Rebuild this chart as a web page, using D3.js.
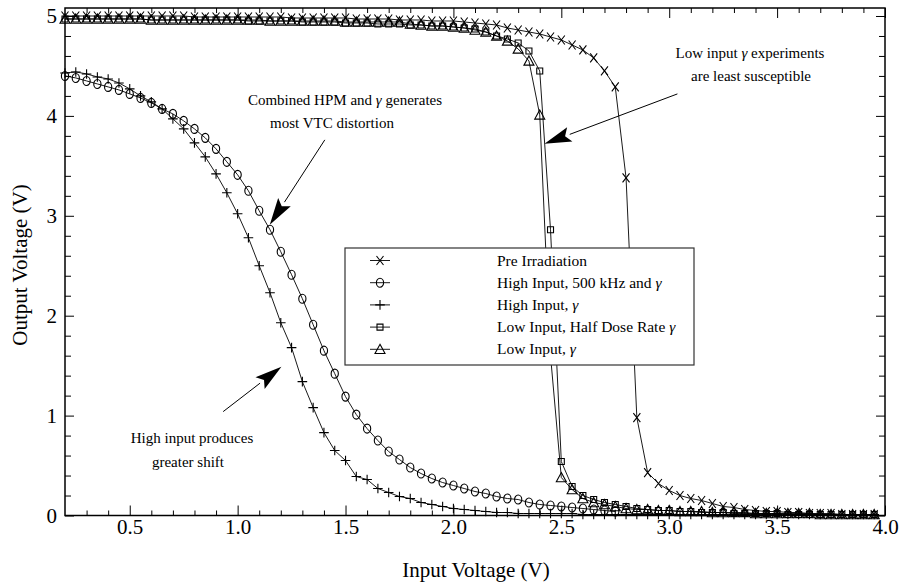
<!DOCTYPE html>
<html>
<head>
	<meta charset="utf-8">
	<title>VTC</title>
	<script src="https://d3js.org/d3.v7.min.js"></script>
	<style>
		body { margin: 0; background: #fff; }
		text { font-family: "Liberation Serif", "Times New Roman", serif; fill: #000; }
	</style>
</head>
<body>
<svg id="chart" width="904" height="585"></svg>
<script>
	// input voltage sweep (V)
	var vin = [0.20,0.25,0.30,0.35,0.40,0.45,0.50,0.55,0.60,0.65,0.70,0.75,0.80,0.85,0.90,0.95,
		1.00,1.05,1.10,1.15,1.20,1.25,1.30,1.35,1.40,1.45,1.50,1.55,1.60,1.65,1.70,1.75,1.80,1.85,1.90,1.95,
		2.00,2.05,2.10,2.15,2.20,2.25,2.30,2.35,2.40,2.45,2.50,2.55,2.60,2.65,2.70,2.75,
		2.80,2.85,2.90,2.95,3.00,3.05,3.10,3.15,3.20,3.25,3.30,3.35,3.40,3.45,3.50,3.55,3.60,3.65,3.70,3.75,3.80,3.85,3.90,3.95];

	var preIrr = [5.00,5.00,5.00,5.00,5.00,5.00,5.00,5.00,5.00,5.00,5.00,5.00,4.99,4.99,4.99,4.99,
		4.99,4.99,4.99,4.99,4.99,4.98,4.98,4.98,4.98,4.98,4.98,4.97,4.97,4.97,4.97,4.96,4.96,4.96,4.95,4.95,
		4.95,4.94,4.93,4.92,4.91,4.88,4.86,4.84,4.82,4.79,4.76,4.71,4.66,4.58,4.45,4.29,
		3.38,0.98,0.43,0.32,0.25,0.20,0.17,0.15,0.12,0.09,0.08,0.06,0.05,0.04,0.04,0.03,0.03,0.02,0.02,0.02,0.01,0.01,0.01,0.01];

	var highHpm = [4.40,4.38,4.35,4.32,4.29,4.26,4.22,4.18,4.13,4.07,4.02,3.95,3.87,3.78,3.67,3.54,
		3.41,3.25,3.05,2.86,2.64,2.41,2.17,1.91,1.65,1.42,1.19,1.01,0.87,0.75,0.64,0.56,0.48,0.42,0.37,0.33,
		0.30,0.27,0.24,0.22,0.19,0.17,0.16,0.13,0.11,0.10,0.09,0.08,0.07,0.06,0.05,0.04];

	var highGamma = [4.43,4.44,4.42,4.39,4.37,4.33,4.27,4.20,4.14,4.07,3.97,3.87,3.73,3.59,3.42,3.23,
		3.02,2.78,2.50,2.23,1.93,1.68,1.34,1.08,0.83,0.65,0.55,0.39,0.36,0.27,0.23,0.19,0.17,0.13,0.11,0.09,
		0.07,0.06,0.05,0.04,0.03,0.03,0.02,0.02,0.02,0.02,0.02,0.02,0.01,0.01,0.01,0.01,
		0.01,0.01,0.01,0.01,0.01,0.01,0.01,0.01,0.01,0.01,0.01,0.01,0.01,0.01,0.01,0.01,0.01,0.01,0.01,0.01,0.01,0.01,0.01,0.01];

	var lowHalf = [4.97,4.97,4.97,4.97,4.97,4.97,4.97,4.97,4.96,4.96,4.96,4.96,4.96,4.96,4.96,4.96,
		4.96,4.95,4.95,4.95,4.95,4.95,4.94,4.94,4.94,4.94,4.93,4.93,4.93,4.92,4.92,4.92,4.91,4.91,4.90,4.90,
		4.89,4.88,4.87,4.84,4.80,4.77,4.73,4.65,4.45,2.86,0.54,0.29,0.20,0.16,0.13,0.11,
		0.09,0.07,0.06,0.05,0.05,0.04,0.04,0.03,0.03,0.03,0.02,0.02,0.02,0.02,0.02,0.01,0.01,0.01,0.01,0.01,0.01,0.01,0.01,0.01];

	var lowGamma = [4.97,4.97,4.97,4.97,4.97,4.97,4.97,4.97,4.96,4.96,4.96,4.96,4.96,4.96,4.96,4.96,
		4.96,4.96,4.96,4.95,4.95,4.95,4.95,4.95,4.95,4.95,4.94,4.94,4.94,4.94,4.94,4.94,4.92,4.91,4.90,4.90,
		4.89,4.88,4.86,4.84,4.80,4.75,4.67,4.55,4.01,1.60,0.38,0.26,0.17,0.13,0.11,0.09,
		0.07,0.06,0.06,0.05,0.05,0.04,0.04,0.04,0.03,0.03,0.03,0.03,0.02,0.02,0.02,0.02,0.02,0.02,0.01,0.01,0.01,0.01,0.01,0.01];

	var seriesNames = ["Pre Irradiation", "High Input, 500 kHz and ", "High Input, ", "Low Input, Half Dose Rate ", "Low Input, "];
	var seriesGamma = [false, true, true, true, true];
	var seriesMarks = ["x", "o", "plus", "square", "tri"];
	var seriesValues = [preIrr, highHpm, highGamma, lowHalf, lowGamma];

	var xMajor = [0.5, 1.0, 1.5, 2.0, 2.5, 3.0, 3.5, 4.0];
	var yMajor = [0, 1, 2, 3, 4, 5];

	var markerPaths = {
		x: "M-3.5,-4.5L3.5,4.5M3.5,-4.5L-3.5,4.5",
		o: "M0,-4.5A3.6,4.5 0 1,1 0,4.5A3.6,4.5 0 1,1 0,-4.5Z",
		plus: "M-4.8,0L4.8,0M0,-4.8L0,4.8",
		square: "M-3,-3H3V3H-3Z",
		tri: "M0,-5L5,4.2H-5Z"
	};

	var svg = d3.select("#chart");
	var plotL = 65, plotR = 885, plotT = 8, plotB = 515.5;

	var x = d3.scaleLinear().domain([0.2, 4.0]).range([plotL, plotR]);
	var y = d3.scaleLinear().domain([0, 5.08]).range([plotB, plotT]);

	function ticks(lo, hi, step) {
		var out = [];
		for (var v = lo; v <= hi + 1e-9; v += step) out.push(Math.round(v * 100) / 100);
		return out;
	}
	var xMinor = ticks(0.3, 3.9, 0.1).filter(function (d) { return xMajor.indexOf(d) < 0; });
	var yMinor = ticks(0.2, 5.0, 0.2).filter(function (d) { return yMajor.indexOf(d) < 0; });

	function addAxis(axis, tx, ty, cls) {
		var g = svg.append("g")
			.attr("class", cls)
			.attr("transform", "translate(" + tx + "," + ty + ")")
			.call(axis);
		g.select(".domain").remove();
		g.selectAll("line").attr("stroke", "#000").attr("stroke-width", 1);
		g.selectAll("text").style("font-family", "Liberation Serif").style("font-size", "21px").attr("fill", "#000");
		return g;
	}

	addAxis(d3.axisBottom(x).tickValues(xMajor).tickSize(-10).tickPadding(4).tickFormat(d3.format(".1f")), 0, plotB, "xb");
	addAxis(d3.axisBottom(x).tickValues(xMinor).tickSize(-5).tickFormat(""), 0, plotB, "xbm");
	addAxis(d3.axisTop(x).tickValues(xMajor).tickSize(-10).tickFormat(""), 0, plotT, "xt");
	addAxis(d3.axisTop(x).tickValues(xMinor).tickSize(-5).tickFormat(""), 0, plotT, "xtm");
	addAxis(d3.axisLeft(y).tickValues(yMajor).tickSize(-9).tickPadding(8).tickFormat(d3.format("d")), plotL, 0, "yl");
	addAxis(d3.axisLeft(y).tickValues(yMinor).tickSize(-6).tickFormat(""), plotL, 0, "ylm");
	addAxis(d3.axisRight(y).tickValues(yMajor).tickSize(-9).tickFormat(""), plotR, 0, "yr");
	addAxis(d3.axisRight(y).tickValues(yMinor).tickSize(-6).tickFormat(""), plotR, 0, "yrm");

	var line = d3.line()
		.x(function (d) { return x(d[0]); })
		.y(function (d) { return y(d[1]); });

	seriesValues.forEach(function (vals, i) {
		var pts = vals.map(function (v, k) { return [vin[k], v]; });
		var g = svg.append("g").attr("class", "series");
		g.append("path")
			.attr("d", line(pts))
			.attr("fill", "none")
			.attr("stroke", "#000")
			.attr("stroke-width", 0.9);
		g.selectAll("path.m")
			.data(pts)
			.enter().append("path")
			.attr("class", "m")
			.attr("d", markerPaths[seriesMarks[i]])
			.attr("transform", function (d) { return "translate(" + x(d[0]) + "," + y(d[1]) + ")"; })
			.attr("fill", "none")
			.attr("stroke", "#000")
			.attr("stroke-width", 1.1);
	});

	// frame
	svg.append("rect")
		.attr("x", plotL).attr("y", plotT)
		.attr("width", plotR - plotL).attr("height", plotB - plotT)
		.attr("fill", "none").attr("stroke", "#000").attr("stroke-width", 1.5);

	// legend
	var leg = svg.append("g").attr("transform", "translate(345,248)");
	leg.append("rect")
		.attr("width", 349).attr("height", 117)
		.attr("fill", "#fff").attr("stroke", "#333").attr("stroke-width", 1.2);
	seriesNames.forEach(function (name, i) {
		var ry = 12.5 + i * 22.2;
		leg.append("line")
			.attr("x1", 25).attr("x2", 45).attr("y1", ry).attr("y2", ry)
			.attr("stroke", "#000").attr("stroke-width", 0.9);
		leg.append("path")
			.attr("d", markerPaths[seriesMarks[i]])
			.attr("transform", "translate(35," + ry + ")")
			.attr("fill", "none").attr("stroke", "#000").attr("stroke-width", 1.1);
		var t = leg.append("text")
			.attr("x", 152).attr("y", ry + 5)
			.style("font-size", "15.5px")
			.text(name);
		if (seriesGamma[i]) t.append("tspan").style("font-style", "italic").text("\u03b3");
	});

	// annotations
	var notes = [
		{ lines: [["Combined HPM and ", "\u03b3", " generates"], ["most VTC distortion"]], cx: [345, 332], by: [105, 128] },
		{ lines: [["Low input ", "\u03b3", " experiments"], ["are least susceptible"]], cx: [750, 751], by: [58, 81] },
		{ lines: [["High input produces"], ["greater shift"]], cx: [192, 188], by: [443, 467] }
	];
	notes.forEach(function (n) {
		n.lines.forEach(function (parts, j) {
			var t = svg.append("text")
				.attr("x", n.cx[j]).attr("y", n.by[j])
				.attr("text-anchor", "middle")
				.style("font-size", "15px");
			parts.forEach(function (p) {
				var s = t.append("tspan").text(p);
				if (p === "\u03b3") s.style("font-style", "italic");
			});
		});
	});

	// arrows in data units: [from, tip]
	var arrows = [
		[[1.404, 3.76], [1.149, 2.91]],
		[[3.038, 4.22], [2.422, 3.72]],
		[[0.933, 1.04], [1.203, 1.49]]
	];
	arrows.forEach(function (a) {
		var x0 = x(a[0][0]), y0 = y(a[0][1]), x1 = x(a[1][0]), y1 = y(a[1][1]);
		var ang = Math.atan2(y1 - y0, x1 - x0);
		var len = 27, hw = 7.5;
		var bx = x1 - len * Math.cos(ang), by = y1 - len * Math.sin(ang);
		svg.append("line")
			.attr("x1", x0).attr("y1", y0).attr("x2", bx).attr("y2", by)
			.attr("stroke", "#000").attr("stroke-width", 1);
		var px = -Math.sin(ang) * hw, py = Math.cos(ang) * hw;
		var nx = x1 - (len - 5) * Math.cos(ang), ny = y1 - (len - 5) * Math.sin(ang);
		svg.append("path")
			.attr("d", "M" + x1 + "," + y1 + "L" + (bx + px) + "," + (by + py) + "L" + nx + "," + ny + "L" + (bx - px) + "," + (by - py) + "Z")
			.attr("fill", "#000");
	});

	// axis titles
	svg.append("text")
		.attr("x", 476).attr("y", 577)
		.attr("text-anchor", "middle")
		.style("font-size", "21px")
		.text("Input Voltage (V)");
	svg.append("text")
		.attr("transform", "translate(27,265) rotate(-90)")
		.attr("text-anchor", "middle")
		.style("font-size", "21px")
		.text("Output Voltage (V)");
</script>
</body>
</html>
